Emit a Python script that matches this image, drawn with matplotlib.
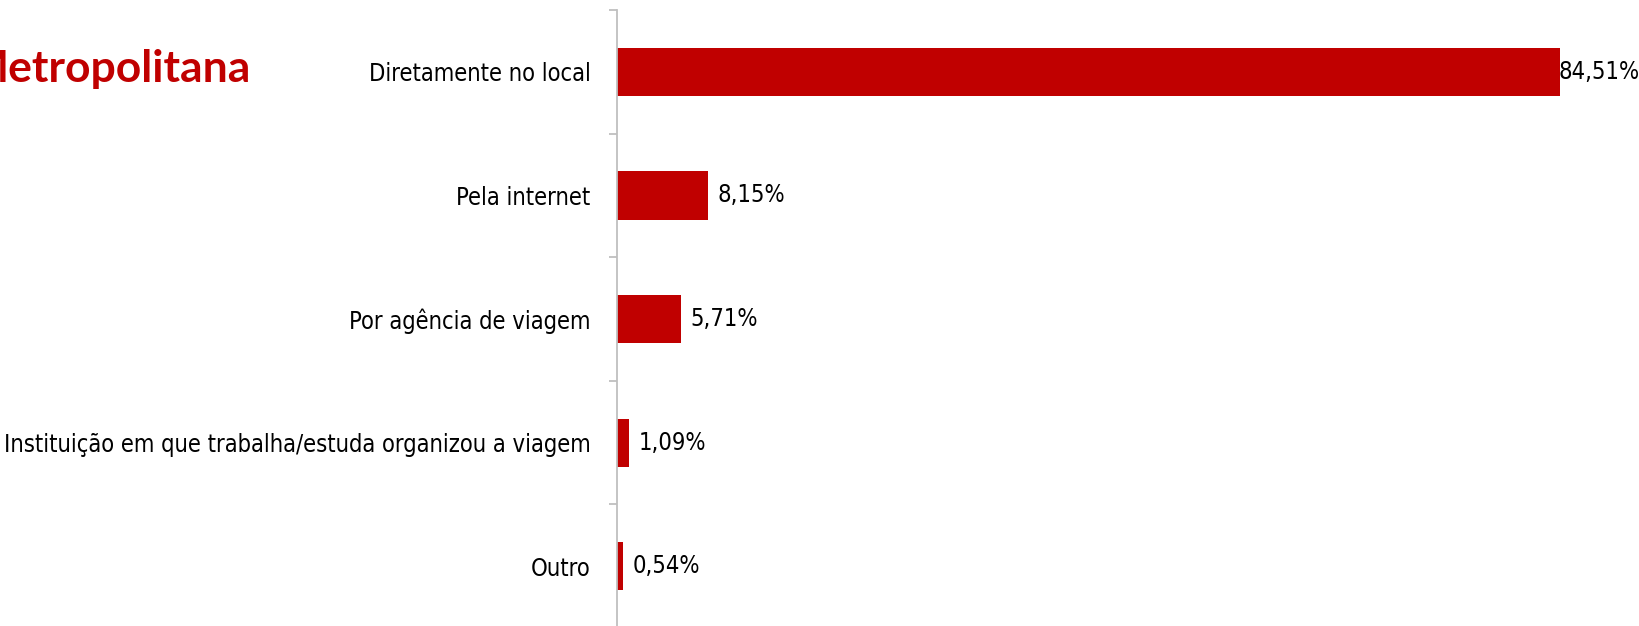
import numpy as np
import matplotlib.pyplot as plt

categorias = ['Diretamente no local', 'Pela internet', 'Por agência de viagem',
              'Instituição em que trabalha/estuda organizou a viagem', 'Outro']
valores = [84.51, 8.15, 5.71, 1.09, 0.54]
rotulos = ['84,51%', '8,15%', '5,71%', '1,09%', '0,54%']
titulo = 'Metropolitana'

vermelho = '#C00000'
fonte = dict(family=['DejaVu Sans'], fontstretch='condensed', fontsize=17)

fig = plt.figure(figsize=(16.39, 6.26), dpi=100)
ax = fig.add_axes([0.3764, -0.0032, 0.6236, 0.987])

y = np.arange(len(categorias))
ax.barh(y, valores, height=0.39, color=vermelho)
ax.set_ylim(len(categorias) - 0.5, -0.5)
ax.set_xlim(0, 91.6)

for i, (v, r) in enumerate(zip(valores, rotulos)):
    off = -1 if v > 80 else 7
    ax.annotate(r, (v, i), xytext=(off, 0), textcoords='offset points',
                va='center', ha='left', color='black', **fonte)

ax.set_yticks(y)
ax.set_yticklabels(categorias, **fonte)
ax.set_yticks(np.arange(len(categorias) + 1) - 0.5, minor=True)
ax.tick_params(axis='y', which='major', length=0, pad=19)
ax.tick_params(axis='y', which='minor', length=6, color='#BFBFBF', width=1.3)
ax.set_xticks([])
for s in ['top', 'right', 'bottom']:
    ax.spines[s].set_visible(False)
ax.spines['left'].set_color('#BFBFBF')
ax.spines['left'].set_linewidth(1.3)

fig.text(251 / 1639, 1 - 82 / 626, titulo, ha='right', va='baseline',
         fontsize=32, fontweight='bold', color=vermelho, family=['Lato', 'DejaVu Sans'])

fig.savefig('out.png', dpi=100)
